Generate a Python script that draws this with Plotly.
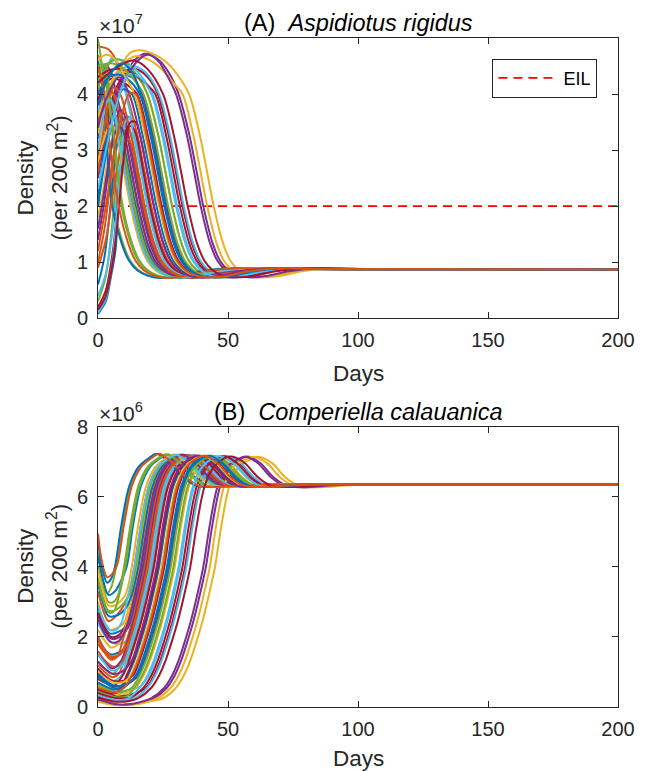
import plotly.graph_objects as go

# ---------------- data ----------------
# Panel A: Aspidiotus rigidus density, in units of 1e7 per 200 m^2 ; (day, value) points per run
A_series = [
    [(0,0.08),(3,0.3),(5,0.75),(6.7,1.2),(8,2.2),(9.5,3.2),(11,3.6),(12.5,3.55),(14,3.3),(17,2.6),(19.5,2.0),(23,1.35),(26,1.02),(29,0.86),(33,0.76),(38,0.73),(45.5,0.76),(53.5,0.84),(65.5,0.89),(79.5,0.88),(200,0.87)],
    [(0,4.85),(4,4.8),(8,4.5),(11,4.0),(15,3.3),(18,2.6),(20.5,2.0),(24,1.35),(27,1.02),(30,0.86),(34,0.76),(39,0.73),(46.5,0.76),(54.5,0.84),(66.5,0.89),(80.5,0.88),(200,0.87)],
    [(0,3.4),(4,3.9),(8,4.4),(12,4.72),(16,4.78),(21,4.72),(26,4.58),(30,4.38),(35,4.0),(39,3.3),(42,2.6),(44.5,2.0),(48,1.35),(51,1.02),(54,0.86),(58,0.76),(63,0.73),(70.5,0.76),(78.5,0.84),(90.5,0.89),(104.5,0.88),(200,0.87)],
    [(0,3.1),(5,3.7),(10,4.3),(14,4.6),(18,4.72),(23,4.62),(27,4.4),(31,4.0),(35,3.3),(38,2.6),(40.5,2.0),(44,1.35),(47,1.02),(50,0.86),(54,0.76),(59,0.73),(66.5,0.76),(74.5,0.84),(86.5,0.89),(100.5,0.88),(200,0.87)],
    [(0,4.98),(1.5,4.5),(3.5,3.3),(6,2.0),(9.5,1.35),(12.5,1.02),(15.5,0.86),(19.5,0.76),(24.5,0.72),(32,0.76),(40,0.84),(52,0.89),(66,0.88),(200,0.87)],
    [(0,3.6),(2.5,4.3),(5.5,4.65),(8.5,4.4),(11,3.95),(14,3.3),(17,2.6),(19.5,2.0),(23,1.35),(26,1.02),(29,0.86),(33,0.76),(38,0.73),(45.5,0.76),(53.5,0.84),(65.5,0.89),(79.5,0.88),(200,0.87)],
    [(0,3.0),(4,3.7),(8,4.2),(12,4.45),(16,4.42),(20,4.25),(23,4.0),(27,3.3),(30,2.6),(32.5,2.0),(36,1.35),(39,1.02),(42,0.86),(46,0.76),(51,0.73),(58.5,0.76),(66.5,0.84),(78.5,0.89),(92.5,0.88),(200,0.87)],
    [(0,0.6),(2.5,1.1),(5,2.1),(7,3.0),(9,3.45),(11,3.3),(14,2.6),(16.5,2.0),(20,1.35),(23,1.02),(26,0.86),(30,0.76),(35,0.73),(42.5,0.76),(50.5,0.84),(62.5,0.89),(76.5,0.88),(200,0.87)],
    [(0,4.0),(1.5,4.35),(3,4.3),(5,3.85),(8,3.3),(11,2.6),(13.5,2.0),(17,1.35),(20,1.02),(23,0.86),(27,0.76),(32,0.73),(39.5,0.76),(47.5,0.84),(59.5,0.89),(73.5,0.88),(200,0.87)],
    [(0,1.8),(2,2.3),(4,2.9),(6.5,3.3),(8.5,3.25),(11.5,2.6),(14,2.0),(17.5,1.35),(20.5,1.02),(23.5,0.86),(27.5,0.76),(32.5,0.73),(40,0.76),(48,0.84),(60,0.89),(74,0.88),(200,0.87)],
    [(0,3.2),(1.5,4.1),(3,4.5),(5,4.4),(7,4.0),(11,3.3),(14,2.6),(16.5,2.0),(20,1.35),(23,1.02),(26,0.86),(30,0.76),(35,0.73),(42.5,0.76),(50.5,0.84),(62.5,0.89),(76.5,0.88),(200,0.87)],
    [(0,0.3),(3,0.75),(5.5,1.7),(7.5,2.7),(9.5,3.3),(11,3.4),(12.5,3.3),(15.5,2.6),(18,2.0),(21.5,1.35),(24.5,1.02),(27.5,0.86),(31.5,0.76),(36.5,0.73),(44,0.76),(52,0.84),(64,0.89),(78,0.88),(200,0.87)],
    [(0,4.4),(4,4.55),(8,4.62),(13,4.5),(17,4.3),(21,4.0),(25,3.3),(28,2.6),(30.5,2.0),(34,1.35),(37,1.02),(40,0.86),(44,0.76),(49,0.73),(56.5,0.76),(64.5,0.84),(76.5,0.89),(90.5,0.88),(200,0.87)],
    [(0,3.8),(2,4.15),(3.5,4.22),(5.5,4.0),(9.5,3.3),(12.5,2.6),(15,2.0),(18.5,1.35),(21.5,1.02),(24.5,0.86),(28.5,0.76),(33.5,0.73),(41,0.76),(49,0.84),(61,0.89),(75,0.88),(200,0.87)],
    [(0,2.0),(2,2.9),(4.5,3.65),(6,3.6),(7.5,3.3),(10.5,2.6),(13,2.0),(16.5,1.35),(19.5,1.02),(22.5,0.86),(26.5,0.76),(31.5,0.72),(39,0.76),(47,0.84),(59,0.89),(73,0.88),(200,0.87)],
    [(0,1.0),(2.5,1.6),(5,2.5),(7,3.2),(9,3.52),(10.5,3.48),(11.5,3.3),(14.5,2.6),(17,2.0),(20.5,1.35),(23.5,1.02),(26.5,0.86),(30.5,0.76),(35.5,0.73),(43,0.76),(51,0.84),(63,0.89),(77,0.88),(200,0.87)],
    [(0,2.8),(2.5,3.6),(5,4.0),(6.5,3.95),(9.5,3.3),(12.5,2.6),(15,2.0),(18.5,1.35),(21.5,1.02),(24.5,0.86),(28.5,0.76),(33.5,0.73),(41,0.76),(49,0.84),(61,0.89),(75,0.88),(200,0.87)],
    [(0,2.5),(3,3.3),(6,3.9),(10,4.3),(13,4.3),(17,4.0),(21,3.3),(24,2.6),(26.5,2.0),(30,1.35),(33,1.02),(36,0.86),(40,0.76),(45,0.73),(52.5,0.76),(60.5,0.84),(72.5,0.89),(86.5,0.88),(200,0.87)],
    [(0,4.7),(2.5,4.4),(5,3.5),(7,2.7),(9,2.0),(12.5,1.35),(15.5,1.02),(18.5,0.86),(22.5,0.76),(27.5,0.72),(35,0.76),(43,0.84),(55,0.89),(69,0.88),(200,0.87)],
    [(0,0.4),(3,0.8),(6,1.7),(8.5,2.7),(11,3.25),(12.5,3.3),(14,3.2),(17,2.6),(19.5,2.0),(23,1.35),(26,1.02),(29,0.86),(33,0.76),(38,0.73),(45.5,0.76),(53.5,0.84),(65.5,0.89),(79.5,0.88),(200,0.87)],
    [(0,3.9),(3,4.2),(6,4.28),(10,4.2),(15,4.0),(19,3.3),(22,2.6),(24.5,2.0),(28,1.35),(31,1.02),(34,0.86),(38,0.76),(43,0.73),(50.5,0.76),(58.5,0.84),(70.5,0.89),(84.5,0.88),(200,0.87)],
    [(0,2.2),(2,2.8),(4,3.35),(6,3.6),(7.5,3.55),(9,3.3),(12,2.6),(14.5,2.0),(18,1.35),(21,1.02),(24,0.86),(28,0.76),(33,0.73),(40.5,0.76),(48.5,0.84),(60.5,0.89),(74.5,0.88),(200,0.87)],
    [(0,3.5),(2,3.9),(4,4.1),(6,4.0),(10,3.3),(13,2.6),(15.5,2.0),(19,1.35),(22,1.02),(25,0.86),(29,0.76),(34,0.73),(41.5,0.76),(49.5,0.84),(61.5,0.89),(75.5,0.88),(200,0.87)],
    [(0,3.3),(3,3.9),(6,4.25),(9,4.4),(13,4.35),(17,4.2),(19,4.0),(23,3.3),(26,2.6),(28.5,2.0),(32,1.35),(35,1.02),(38,0.86),(42,0.76),(47,0.73),(54.5,0.76),(62.5,0.84),(74.5,0.89),(88.5,0.88),(200,0.87)],
    [(0,1.4),(2.5,2.1),(5,3.0),(7,3.55),(8.5,3.72),(10,3.65),(11.5,3.3),(14.5,2.6),(17,2.0),(20.5,1.35),(23.5,1.02),(26.5,0.86),(30.5,0.76),(35.5,0.73),(43,0.76),(51,0.84),(63,0.89),(77,0.88),(200,0.87)],
    [(0,4.1),(3,4.45),(6,4.62),(10,4.58),(14,4.4),(19,4.0),(23,3.3),(26,2.6),(28.5,2.0),(32,1.35),(35,1.02),(38,0.86),(42,0.76),(47,0.73),(54.5,0.76),(62.5,0.84),(74.5,0.89),(88.5,0.88),(200,0.87)],
    [(0,3.7),(4,4.1),(8,4.4),(13,4.5),(18,4.4),(23.5,4.0),(27.5,3.3),(30.5,2.6),(33,2.0),(36.5,1.35),(39.5,1.02),(42.5,0.86),(46.5,0.76),(51.5,0.73),(59,0.76),(67,0.84),(79,0.89),(93,0.88),(200,0.87)],
    [(0,0.2),(3,0.5),(6,1.3),(8,2.3),(10,3.1),(11.5,3.42),(13,3.42),(14.5,3.3),(17.5,2.6),(20,2.0),(23.5,1.35),(26.5,1.02),(29.5,0.86),(33.5,0.76),(38.5,0.73),(46,0.76),(54,0.84),(66,0.89),(80,0.88),(200,0.87)],
    [(0,4.6),(1.5,4.2),(3,3.3),(5.5,2.0),(9,1.35),(12,1.02),(15,0.86),(19,0.76),(24,0.72),(31.5,0.76),(39.5,0.84),(51.5,0.89),(65.5,0.88),(200,0.87)],
    [(0,0.9),(3,1.4),(6,2.3),(8.5,2.95),(10.5,3.2),(12,3.18),(15,2.6),(17.5,2.0),(21,1.35),(24,1.02),(27,0.86),(31,0.76),(36,0.73),(43.5,0.76),(51.5,0.84),(63.5,0.89),(77.5,0.88),(200,0.87)],
    [(0,3.6),(4,4.1),(8,4.45),(12,4.63),(15,4.68),(20,4.6),(25,4.42),(29,4.2),(32.5,4.0),(36.5,3.3),(39.5,2.6),(42,2.0),(45.5,1.35),(48.5,1.02),(51.5,0.86),(55.5,0.76),(60.5,0.73),(68,0.76),(76,0.84),(88,0.89),(102,0.88),(200,0.87)],
    [(0,2.9),(5,3.55),(10,4.2),(15,4.58),(19,4.7),(23,4.6),(26,4.38),(30,4.0),(34,3.3),(37,2.6),(39.5,2.0),(43,1.35),(46,1.02),(49,0.86),(53,0.76),(58,0.73),(65.5,0.76),(73.5,0.84),(85.5,0.89),(99.5,0.88),(200,0.87)],
    [(0,4.2),(1.5,4.5),(3,4.5),(4.5,4.0),(8.5,3.3),(11.5,2.6),(14,2.0),(17.5,1.35),(20.5,1.02),(23.5,0.86),(27.5,0.76),(32.5,0.73),(40,0.76),(48,0.84),(60,0.89),(74,0.88),(200,0.87)],
    [(0,0.1),(3,0.35),(5.5,1.0),(7.5,2.0),(9,2.9),(10.5,3.5),(12,3.58),(13.5,3.3),(16.5,2.6),(19,2.0),(22.5,1.35),(25.5,1.02),(28.5,0.86),(32.5,0.76),(37.5,0.73),(45,0.76),(53,0.84),(65,0.89),(79,0.88),(200,0.87)],
    [(0,4.3),(4,4.42),(8,4.45),(13,4.38),(18,4.2),(22,4.0),(26,3.3),(29,2.6),(31.5,2.0),(35,1.35),(38,1.02),(41,0.86),(45,0.76),(50,0.73),(57.5,0.76),(65.5,0.84),(77.5,0.89),(91.5,0.88),(200,0.87)],
    [(0,2.0),(3,2.9),(6,3.6),(9.5,4.08),(13,4.0),(17,3.3),(20,2.6),(22.5,2.0),(26,1.35),(29,1.02),(32,0.86),(36,0.76),(41,0.73),(48.5,0.76),(56.5,0.84),(68.5,0.89),(82.5,0.88),(200,0.87)],
    [(0,2.6),(2,3.3),(4,3.85),(6,4.12),(8.5,4.0),(12.5,3.3),(15.5,2.6),(18,2.0),(21.5,1.35),(24.5,1.02),(27.5,0.86),(31.5,0.76),(36.5,0.73),(44,0.76),(52,0.84),(64,0.89),(78,0.88),(200,0.87)],
    [(0,2.8),(2,3.15),(4,3.4),(5.5,3.45),(7,3.3),(10,2.6),(12.5,2.0),(16,1.35),(19,1.02),(22,0.86),(26,0.76),(31,0.73),(38.5,0.76),(46.5,0.84),(58.5,0.89),(72.5,0.88),(200,0.87)],
    [(0,1.6),(2.5,2.3),(5,3.0),(7.5,3.4),(9,3.4),(10,3.3),(13,2.6),(15.5,2.0),(19,1.35),(22,1.02),(25,0.86),(29,0.76),(34,0.73),(41.5,0.76),(49.5,0.84),(61.5,0.89),(75.5,0.88),(200,0.87)],
    [(0,4.4),(2,4.3),(4,3.95),(7,2.9),(9.5,2.0),(13,1.35),(16,1.02),(19,0.86),(23,0.76),(28,0.72),(35.5,0.76),(43.5,0.84),(55.5,0.89),(69.5,0.88),(200,0.87)],
    [(0,3.0),(2,3.6),(4,3.9),(5.5,3.85),(7.5,3.3),(10.5,2.6),(13,2.0),(16.5,1.35),(19.5,1.02),(22.5,0.86),(26.5,0.76),(31.5,0.73),(39,0.76),(47,0.84),(59,0.89),(73,0.88),(200,0.87)],
    [(0,0.15),(3,0.4),(6,1.1),(8.5,2.2),(10.5,3.1),(12.5,3.5),(14.5,3.5),(16,3.3),(19,2.6),(21.5,2.0),(25,1.35),(28,1.02),(31,0.86),(35,0.76),(40,0.73),(47.5,0.76),(55.5,0.84),(67.5,0.89),(81.5,0.88),(200,0.87)],
    [(0,4.0),(3,4.25),(7,4.35),(11,4.28),(16,4.0),(20,3.3),(23,2.6),(25.5,2.0),(29,1.35),(32,1.02),(35,0.86),(39,0.76),(44,0.73),(51.5,0.76),(59.5,0.84),(71.5,0.89),(85.5,0.88),(200,0.87)],
    [(0,4.5),(2,4.1),(4.5,3.1),(8,2.0),(11.5,1.35),(14.5,1.02),(17.5,0.86),(21.5,0.76),(26.5,0.72),(34,0.76),(42,0.84),(54,0.89),(68,0.88),(200,0.87)],
    [(0,4.6),(3,4.7),(7,4.6),(10,4.35),(14,4.0),(18,3.3),(21,2.6),(23.5,2.0),(27,1.35),(30,1.02),(33,0.86),(37,0.76),(42,0.73),(49.5,0.76),(57.5,0.84),(69.5,0.89),(83.5,0.88),(200,0.87)],
    [(0,3.4),(3,3.9),(8,4.3),(12,4.0),(16,3.3),(19,2.6),(21.5,2.0),(25,1.35),(28,1.02),(31,0.86),(35,0.76),(40,0.73),(47.5,0.76),(55.5,0.84),(67.5,0.89),(81.5,0.88),(200,0.87)],
    [(0,4.5),(5,4.55),(10,4.45),(14,4.25),(17.5,4.0),(21.5,3.3),(24.5,2.6),(27,2.0),(30.5,1.35),(33.5,1.02),(36.5,0.86),(40.5,0.76),(45.5,0.73),(53,0.76),(61,0.84),(73,0.89),(87,0.88),(200,0.87)],
    [(0,2.3),(4,3.2),(8,3.95),(12,4.35),(16,4.3),(20.5,4.0),(24.5,3.3),(27.5,2.6),(30,2.0),(33.5,1.35),(36.5,1.02),(39.5,0.86),(43.5,0.76),(48.5,0.73),(56,0.76),(64,0.84),(76,0.89),(90,0.88),(200,0.87)],
    [(0,4.2),(5,4.4),(10,4.55),(14,4.6),(19,4.45),(25,4.0),(29,3.3),(32,2.6),(34.5,2.0),(38,1.35),(41,1.02),(44,0.86),(48,0.76),(53,0.73),(60.5,0.76),(68.5,0.84),(80.5,0.89),(94.5,0.88),(200,0.87)],
    [(0,3.8),(4,4.3),(9,4.55),(13,4.4),(16.5,4.0),(20.5,3.3),(23.5,2.6),(26,2.0),(29.5,1.35),(32.5,1.02),(35.5,0.86),(39.5,0.76),(44.5,0.73),(52,0.76),(60,0.84),(72,0.89),(86,0.88),(200,0.87)],
    [(0,1.2),(3,2.0),(6,2.9),(9,3.6),(12,4.0),(14.5,4.0),(18.5,3.3),(21.5,2.6),(24,2.0),(27.5,1.35),(30.5,1.02),(33.5,0.86),(37.5,0.76),(42.5,0.73),(50,0.76),(58,0.84),(70,0.89),(84,0.88),(200,0.87)],
]

# Panel B: Comperiella calauanica density, in units of 1e6 per 200 m^2 ; (day, value) points per run
B_series = [
    [(0,2.0),(2.5,1.65),(5,1.5),(9,1.6),(13.5,1.95),(15.5,2.4),(18,3.15),(20.5,4.0),(23,5.2),(26,6.3),(29.5,6.85),(33.5,7.1),(36.5,7.18),(41.5,6.96),(46.5,6.56),(51.5,6.32),(58.5,6.28),(70.5,6.33),(80.5,6.35),(200,6.35)],
    [(0,1.6),(3,1.3),(6,1.15),(9,1.2),(11.5,1.33),(14,1.9),(16,2.4),(18.5,3.15),(21,4.0),(23.5,5.2),(26.5,6.3),(30,6.85),(34,7.1),(37,7.18),(42,6.96),(47,6.56),(52,6.32),(59,6.28),(71,6.33),(81,6.35),(200,6.35)],
    [(0,0.3),(4,0.15),(8,0.08),(15,0.1),(20,0.17),(25,0.25),(30,0.55),(33,0.9),(35.5,1.33),(38,1.9),(40,2.4),(42.5,3.15),(45,4.0),(47.5,5.2),(50.5,6.3),(54,6.85),(58,7.05),(62,7.14),(67,6.96),(72,6.56),(77,6.32),(84,6.27),(96,6.33),(106,6.35),(200,6.35)],
    [(0,0.2),(4,0.1),(8,0.06),(15,0.09),(21.5,0.25),(26.5,0.55),(29.5,0.9),(32,1.33),(34.5,1.9),(36.5,2.4),(39,3.15),(41.5,4.0),(44,5.2),(47,6.3),(50.5,6.85),(54.5,7.06),(57.5,7.15),(62.5,6.96),(67.5,6.56),(72.5,6.32),(79.5,6.27),(91.5,6.33),(101.5,6.35),(200,6.35)],
    [(0,4.4),(1.5,3.75),(3.5,3.25),(5,3.4),(7,4.0),(9.5,5.2),(12.5,6.3),(16,6.85),(20,7.1),(23,7.22),(28,6.98),(33,6.58),(38,6.32),(45,6.28),(57,6.33),(67,6.35),(200,6.35)],
    [(0,2.4),(2.5,2.05),(5,1.85),(8.5,1.8),(12,1.95),(15,2.4),(17.5,3.15),(20,4.0),(22.5,5.2),(25.5,6.3),(29,6.85),(33,7.1),(36,7.18),(41,6.96),(46,6.56),(51,6.32),(58,6.28),(70,6.33),(80,6.35),(200,6.35)],
    [(0,0.5),(3.5,0.38),(7,0.3),(12,0.34),(18.5,0.55),(21.5,0.9),(24,1.33),(26.5,1.9),(28.5,2.4),(31,3.15),(33.5,4.0),(36,5.2),(39,6.3),(42.5,6.85),(46.5,7.1),(49.5,7.16),(54.5,6.96),(59.5,6.56),(64.5,6.32),(71.5,6.28),(83.5,6.33),(93.5,6.35),(200,6.35)],
    [(0,2.9),(2,2.4),(4.5,2.1),(8,2.15),(12,2.4),(14.5,3.15),(17,4.0),(19.5,5.2),(22.5,6.3),(26,6.85),(30,7.1),(33,7.2),(38,6.97),(43,6.57),(48,6.32),(55,6.28),(67,6.33),(77,6.35),(200,6.35)],
    [(0,3.3),(2,2.75),(4,2.45),(7,2.6),(11.5,3.15),(14,4.0),(16.5,5.2),(19.5,6.3),(23,6.85),(27,7.1),(30,7.2),(35,6.97),(40,6.57),(45,6.32),(52,6.28),(64,6.33),(74,6.35),(200,6.35)],
    [(0,3.0),(2,2.5),(4.5,2.2),(7,2.25),(10,2.4),(12.5,3.15),(15,4.0),(17.5,5.2),(20.5,6.3),(24,6.85),(28,7.1),(31,7.2),(36,6.97),(41,6.57),(46,6.32),(53,6.28),(65,6.33),(75,6.35),(200,6.35)],
    [(0,2.6),(2.5,2.2),(5,1.95),(8.5,2.0),(12.5,2.4),(15,3.15),(17.5,4.0),(20,5.2),(23,6.3),(26.5,6.85),(30.5,7.1),(33.5,7.19),(38.5,6.96),(43.5,6.56),(48.5,6.32),(55.5,6.28),(67.5,6.33),(77.5,6.35),(200,6.35)],
    [(0,1.3),(2.5,1.1),(5.5,0.95),(9.5,1.3),(12,1.9),(14,2.4),(16.5,3.15),(19,4.0),(21.5,5.2),(24.5,6.3),(28,6.85),(32,7.1),(35,7.18),(40,6.96),(45,6.56),(50,6.32),(57,6.28),(69,6.33),(79,6.35),(200,6.35)],
    [(0,0.7),(3,0.55),(6,0.45),(11,0.47),(16.5,0.6),(19.5,0.9),(22,1.33),(24.5,1.9),(26.5,2.4),(29,3.15),(31.5,4.0),(34,5.2),(37,6.3),(40.5,6.85),(44.5,7.1),(47.5,7.16),(52.5,6.96),(57.5,6.56),(62.5,6.32),(69.5,6.28),(81.5,6.33),(91.5,6.35),(200,6.35)],
    [(0,2.7),(2.5,2.25),(5,2.0),(8,2.05),(11,2.4),(13.5,3.15),(16,4.0),(18.5,5.2),(21.5,6.3),(25,6.85),(29,7.1),(32,7.2),(37,6.97),(42,6.57),(47,6.32),(54,6.28),(66,6.33),(76,6.35),(200,6.35)],
    [(0,4.3),(2,3.6),(4,3.2),(6.5,3.3),(8.5,3.55),(11,4.0),(13.5,5.2),(16.5,6.3),(20,6.85),(24,7.1),(27,7.21),(32,6.98),(37,6.58),(42,6.32),(49,6.28),(61,6.33),(71,6.35),(200,6.35)],
    [(0,2.0),(2.5,1.65),(5,1.45),(8.5,1.5),(11,1.9),(13,2.4),(15.5,3.15),(18,4.0),(20.5,5.2),(23.5,6.3),(27,6.85),(31,7.1),(34,7.19),(39,6.96),(44,6.56),(49,6.32),(56,6.28),(68,6.33),(78,6.35),(200,6.35)],
    [(0,2.2),(2.5,1.9),(5,1.7),(8,1.8),(11,2.4),(13.5,3.15),(16,4.0),(18.5,5.2),(21.5,6.3),(25,6.85),(29,7.1),(32,7.2),(37,6.97),(42,6.57),(47,6.32),(54,6.28),(66,6.33),(76,6.35),(200,6.35)],
    [(0,0.9),(3,0.72),(6,0.6),(11,0.65),(15.5,0.9),(18,1.33),(20.5,1.9),(22.5,2.4),(25,3.15),(27.5,4.0),(30,5.2),(33,6.3),(36.5,6.85),(40.5,7.1),(43.5,7.17),(48.5,6.96),(53.5,6.56),(58.5,6.32),(65.5,6.28),(77.5,6.33),(87.5,6.35),(200,6.35)],
    [(0,4.0),(2,3.4),(4,3.0),(6,3.0),(7.5,3.15),(10,4.0),(12.5,5.2),(15.5,6.3),(19,6.85),(23,7.1),(26,7.21),(31,6.98),(36,6.58),(41,6.32),(48,6.28),(60,6.33),(70,6.35),(200,6.35)],
    [(0,1.0),(3,0.85),(6,0.75),(9,0.9),(11,1.33),(13.5,1.9),(15.5,2.4),(18,3.15),(20.5,4.0),(23,5.2),(26,6.3),(29.5,6.85),(33.5,7.1),(36.5,7.18),(41.5,6.96),(46.5,6.56),(51.5,6.32),(58.5,6.28),(70.5,6.33),(80.5,6.35),(200,6.35)],
    [(0,1.1),(2.5,0.9),(5.5,0.75),(10,0.75),(13.5,0.9),(16,1.33),(18.5,1.9),(20.5,2.4),(23,3.15),(25.5,4.0),(28,5.2),(31,6.3),(34.5,6.85),(38.5,7.1),(41.5,7.17),(46.5,6.96),(51.5,6.56),(56.5,6.32),(63.5,6.28),(75.5,6.33),(85.5,6.35),(200,6.35)],
    [(0,3.5),(2,2.95),(4,2.6),(7.5,2.62),(10.5,2.8),(13,3.2),(15.5,4.0),(18,5.2),(21,6.3),(24.5,6.85),(28.5,7.1),(31.5,7.2),(36.5,6.97),(41.5,6.57),(46.5,6.32),(53.5,6.28),(65.5,6.33),(75.5,6.35),(200,6.35)],
    [(0,1.8),(2.5,1.55),(5,1.35),(7.5,1.45),(9.5,1.9),(11.5,2.4),(14,3.15),(16.5,4.0),(19,5.2),(22,6.3),(25.5,6.85),(29.5,7.1),(32.5,7.2),(37.5,6.97),(42.5,6.57),(47.5,6.32),(54.5,6.28),(66.5,6.33),(76.5,6.35),(200,6.35)],
    [(0,0.6),(3.5,0.47),(7,0.38),(11,0.4),(14.5,0.55),(17.5,0.9),(20,1.33),(22.5,1.9),(24.5,2.4),(27,3.15),(29.5,4.0),(32,5.2),(35,6.3),(38.5,6.85),(42.5,7.1),(45.5,7.16),(50.5,6.96),(55.5,6.56),(60.5,6.32),(67.5,6.28),(79.5,6.33),(89.5,6.35),(200,6.35)],
    [(0,1.5),(2.5,1.28),(5.5,1.1),(9,1.33),(11.5,1.9),(13.5,2.4),(16,3.15),(18.5,4.0),(21,5.2),(24,6.3),(27.5,6.85),(31.5,7.1),(34.5,7.19),(39.5,6.96),(44.5,6.56),(49.5,6.32),(56.5,6.28),(68.5,6.33),(78.5,6.35),(200,6.35)],
    [(0,0.45),(3.5,0.35),(7,0.28),(11,0.3),(14,0.55),(17,0.9),(19.5,1.33),(22,1.9),(24,2.4),(26.5,3.15),(29,4.0),(31.5,5.2),(34.5,6.3),(38,6.85),(42,7.1),(45,7.16),(50,6.96),(55,6.56),(60,6.32),(67,6.28),(79,6.33),(89,6.35),(200,6.35)],
    [(0,0.35),(3.5,0.26),(7,0.2),(12,0.22),(14,0.25),(19,0.55),(22,0.9),(24.5,1.33),(27,1.9),(29,2.4),(31.5,3.15),(34,4.0),(36.5,5.2),(39.5,6.3),(43,6.85),(47,7.1),(50,7.15),(55,6.96),(60,6.56),(65,6.32),(72,6.28),(84,6.33),(94,6.35),(200,6.35)],
    [(0,0.8),(3,0.68),(6,0.6),(9.5,0.9),(12,1.33),(14.5,1.9),(16.5,2.4),(19,3.15),(21.5,4.0),(24,5.2),(27,6.3),(30.5,6.85),(34.5,7.1),(37.5,7.18),(42.5,6.96),(47.5,6.56),(52.5,6.32),(59.5,6.28),(71.5,6.33),(81.5,6.35),(200,6.35)],
    [(0,4.7),(1.5,4.0),(3.5,3.55),(5,3.65),(6.5,4.0),(9,5.2),(12,6.3),(15.5,6.85),(19.5,7.1),(22.5,7.23),(27.5,6.98),(32.5,6.58),(37.5,6.32),(44.5,6.28),(56.5,6.33),(66.5,6.35),(200,6.35)],
    [(0,1.2),(2.5,1.0),(5.5,0.85),(8,0.95),(10,1.33),(12.5,1.9),(14.5,2.4),(17,3.15),(19.5,4.0),(22,5.2),(25,6.3),(28.5,6.85),(32.5,7.1),(35.5,7.18),(40.5,6.96),(45.5,6.56),(50.5,6.32),(57.5,6.28),(69.5,6.33),(79.5,6.35),(200,6.35)],
    [(0,0.15),(4,0.08),(8,0.05),(15,0.08),(23,0.25),(28,0.55),(31,0.9),(33.5,1.33),(36,1.9),(38,2.4),(40.5,3.15),(43,4.0),(45.5,5.2),(48.5,6.3),(52,6.85),(56,7.05),(60,7.14),(65,6.96),(70,6.56),(75,6.32),(82,6.27),(94,6.33),(104,6.35),(200,6.35)],
    [(0,0.25),(4,0.13),(8,0.07),(14,0.1),(20.5,0.25),(25.5,0.55),(28.5,0.9),(31,1.33),(33.5,1.9),(35.5,2.4),(38,3.15),(40.5,4.0),(43,5.2),(46,6.3),(49.5,6.85),(53.5,7.06),(56.5,7.15),(61.5,6.96),(66.5,6.56),(71.5,6.32),(78.5,6.27),(90.5,6.33),(100.5,6.35),(200,6.35)],
    [(0,3.7),(2,3.1),(4,2.75),(7.5,2.8),(12,3.2),(14.5,4.0),(17,5.2),(20,6.3),(23.5,6.85),(27.5,7.1),(30.5,7.2),(35.5,6.97),(40.5,6.57),(45.5,6.32),(52.5,6.28),(64.5,6.33),(74.5,6.35),(200,6.35)],
    [(0,1.5),(2.5,1.25),(5,1.05),(8,1.1),(10.5,1.33),(13,1.9),(15,2.4),(17.5,3.15),(20,4.0),(22.5,5.2),(25.5,6.3),(29,6.85),(33,7.1),(36,7.18),(41,6.96),(46,6.56),(51,6.32),(58,6.28),(70,6.33),(80,6.35),(200,6.35)],
    [(0,0.4),(3.5,0.31),(7,0.25),(12.5,0.27),(17.5,0.55),(20.5,0.9),(23,1.33),(25.5,1.9),(27.5,2.4),(30,3.15),(32.5,4.0),(35,5.2),(38,6.3),(41.5,6.85),(45.5,7.1),(48.5,7.16),(53.5,6.96),(58.5,6.56),(63.5,6.32),(70.5,6.28),(82.5,6.33),(92.5,6.35),(200,6.35)],
    [(0,0.7),(3,0.58),(6,0.5),(9,0.55),(11.5,0.9),(14,1.33),(16.5,1.9),(18.5,2.4),(21,3.15),(23.5,4.0),(26,5.2),(29,6.3),(32.5,6.85),(36.5,7.1),(39.5,7.17),(44.5,6.96),(49.5,6.56),(54.5,6.32),(61.5,6.28),(73.5,6.33),(83.5,6.35),(200,6.35)],
    [(0,1.9),(2.5,1.6),(5,1.4),(8.5,1.5),(12,1.9),(14,2.4),(16.5,3.15),(19,4.0),(21.5,5.2),(24.5,6.3),(28,6.85),(32,7.1),(35,7.19),(40,6.96),(45,6.56),(50,6.32),(57,6.28),(69,6.33),(79,6.35),(200,6.35)],
    [(0,3.9),(2,3.3),(4,2.9),(6.5,2.9),(10.5,3.2),(13,4.0),(15.5,5.2),(18.5,6.3),(22,6.85),(26,7.1),(29,7.21),(34,6.97),(39,6.57),(44,6.32),(51,6.28),(63,6.33),(73,6.35),(200,6.35)],
    [(0,2.5),(2.5,2.1),(5,1.85),(8,1.88),(11.5,2.4),(14,3.15),(16.5,4.0),(19,5.2),(22,6.3),(25.5,6.85),(29.5,7.1),(32.5,7.2),(37.5,6.97),(42.5,6.57),(47.5,6.32),(54.5,6.28),(66.5,6.33),(76.5,6.35),(200,6.35)],
    [(0,3.6),(2,3.05),(4,2.7),(6,2.72),(8,3.15),(10.5,4.0),(13,5.2),(16,6.3),(19.5,6.85),(23.5,7.1),(26.5,7.21),(31.5,6.98),(36.5,6.58),(41.5,6.32),(48.5,6.28),(60.5,6.33),(70.5,6.35),(200,6.35)],
    [(0,2.9),(2,2.5),(4.5,2.2),(7,2.2),(9,2.4),(11.5,3.15),(14,4.0),(16.5,5.2),(19.5,6.3),(23,6.85),(27,7.1),(30,7.2),(35,6.97),(40,6.57),(45,6.32),(52,6.28),(64,6.33),(74,6.35),(200,6.35)],
    [(0,0.5),(3,0.43),(6,0.38),(8,0.45),(11,0.9),(13.5,1.33),(16,1.9),(18,2.4),(20.5,3.15),(23,4.0),(25.5,5.2),(28.5,6.3),(32,6.85),(36,7.1),(39,7.17),(44,6.96),(49,6.56),(54,6.32),(61,6.28),(73,6.33),(83,6.35),(200,6.35)],
    [(0,0.85),(3,0.68),(6,0.55),(10,0.57),(14.5,0.9),(17,1.33),(19.5,1.9),(21.5,2.4),(24,3.15),(26.5,4.0),(29,5.2),(32,6.3),(35.5,6.85),(39.5,7.1),(42.5,7.17),(47.5,6.96),(52.5,6.56),(57.5,6.32),(64.5,6.28),(76.5,6.33),(86.5,6.35),(200,6.35)],
    [(0,4.95),(1.5,4.15),(3.5,3.71),(5.5,3.8),(7.5,4.1),(10,5.2),(13,6.3),(16.5,6.85),(20.5,7.1),(23.5,7.23),(28.5,6.98),(33.5,6.58),(38.5,6.32),(45.5,6.28),(57.5,6.33),(67.5,6.35),(200,6.35)],
    [(0,1.0),(3,0.82),(6,0.7),(10,0.72),(12.5,0.9),(15,1.33),(17.5,1.9),(19.5,2.4),(22,3.15),(24.5,4.0),(27,5.2),(30,6.3),(33.5,6.85),(37.5,7.1),(40.5,7.17),(45.5,6.96),(50.5,6.56),(55.5,6.32),(62.5,6.28),(74.5,6.33),(84.5,6.35),(200,6.35)],
    [(0,1.3),(2.5,1.1),(5.5,0.95),(9,1.0),(13,1.33),(15.5,1.9),(17.5,2.4),(20,3.15),(22.5,4.0),(25,5.2),(28,6.3),(31.5,6.85),(35.5,7.1),(38.5,7.18),(43.5,6.96),(48.5,6.56),(53.5,6.32),(60.5,6.28),(72.5,6.33),(82.5,6.35),(200,6.35)],
    [(0,0.65),(3,0.52),(6.5,0.42),(10,0.44),(13,0.55),(16,0.9),(18.5,1.33),(21,1.9),(23,2.4),(25.5,3.15),(28,4.0),(30.5,5.2),(33.5,6.3),(37,6.85),(41,7.1),(44,7.16),(49,6.96),(54,6.56),(59,6.32),(66,6.28),(78,6.33),(88,6.35),(200,6.35)],
    [(0,0.3),(3.5,0.24),(7,0.2),(11,0.22),(16,0.55),(19,0.9),(21.5,1.33),(24,1.9),(26,2.4),(28.5,3.15),(31,4.0),(33.5,5.2),(36.5,6.3),(40,6.85),(44,7.1),(47,7.16),(52,6.96),(57,6.56),(62,6.32),(69,6.28),(81,6.33),(91,6.35),(200,6.35)],
    [(0,0.28),(3.5,0.2),(7,0.15),(12,0.17),(15.5,0.25),(20.5,0.55),(23.5,0.9),(26,1.33),(28.5,1.9),(30.5,2.4),(33,3.15),(35.5,4.0),(38,5.2),(41,6.3),(44.5,6.85),(48.5,7.1),(51.5,7.15),(56.5,6.96),(61.5,6.56),(66.5,6.32),(73.5,6.28),(85.5,6.33),(95.5,6.35),(200,6.35)],
    [(0,0.95),(3,0.75),(6,0.62),(10,0.63),(15,0.9),(17.5,1.33),(20,1.9),(22,2.4),(24.5,3.15),(27,4.0),(29.5,5.2),(32.5,6.3),(36,6.85),(40,7.1),(43,7.17),(48,6.96),(53,6.56),(58,6.32),(65,6.28),(77,6.33),(87,6.35),(200,6.35)],
    [(0,0.55),(3,0.47),(6,0.42),(10,0.55),(13,0.9),(15.5,1.33),(18,1.9),(20,2.4),(22.5,3.15),(25,4.0),(27.5,5.2),(30.5,6.3),(34,6.85),(38,7.1),(41,7.17),(46,6.96),(51,6.56),(56,6.32),(63,6.28),(75,6.33),(85,6.35),(200,6.35)],
]

EIL_value = 2.0          # x 1e7
x_ticks = [0, 50, 100, 150, 200]
A_yticks = [0, 1, 2, 3, 4, 5]
B_yticks = [0, 2, 4, 6, 8]
colors = ['#0072BD', '#D95319', '#EDB120', '#7E2F8E', '#77AC30', '#4DBEEE', '#A2142F']

# ---------------- figure ----------------
# target positions below are window pixels; the page body adds an 8 px margin
WIN_W, WIN_H = 646, 771
OFF = 8
W, H = WIN_W - OFF, WIN_H - OFF
AX_L, AX_R = 97.5, 618.3
A_TOP, A_BOT = 38.3, 318.3
B_TOP, B_BOT = 426.7, 706.7
ML, MR, MT, MB = AX_L - OFF, WIN_W - AX_R, A_TOP - OFF, WIN_H - B_BOT
PW, PH = W - ML - MR, H - MT - MB
FONT = "Liberation Sans, Arial, Helvetica, sans-serif"
INK = "#262626"

def px_x(p):
    return (p - OFF - ML) / PW

def px_y(p):
    return 1 - (p - OFF - MT) / PH

def clamp(v):
    return min(1.0, max(0.0, v))

fig = go.Figure()

# EIL reference (drawn beneath the runs)
fig.add_trace(go.Scatter(
    x=[x_ticks[0], x_ticks[-1]], y=[EIL_value, EIL_value], mode="lines",
    line=dict(color="#FF0000", width=1.6, dash="9px,6px"),
    name="EIL", showlegend=True, xaxis="x", yaxis="y", hoverinfo="skip"))

for i, run in enumerate(A_series):
    fig.add_trace(go.Scatter(
        x=[p[0] for p in run], y=[p[1] for p in run], mode="lines",
        line=dict(color=colors[i % 7], width=2, shape="spline", smoothing=0.9),
        showlegend=False, xaxis="x", yaxis="y", hoverinfo="skip"))

for i, run in enumerate(B_series):
    fig.add_trace(go.Scatter(
        x=[p[0] for p in run], y=[p[1] for p in run], mode="lines",
        line=dict(color=colors[i % 7], width=2, shape="spline", smoothing=0.9),
        showlegend=False, xaxis="x2", yaxis="y2", hoverinfo="skip"))

xdom = [0.0, 1.0]
axis_common = dict(showline=True, linecolor=INK, linewidth=1, mirror="ticks",
                   ticks="inside", ticklen=6, tickcolor=INK, tickwidth=1,
                   showgrid=False, zeroline=False, automargin=False,
                   tickfont=dict(family=FONT, size=20, color=INK))

fig.update_layout(
    width=W, height=H, margin=dict(l=ML, r=MR, t=MT, b=MB, pad=0, autoexpand=False),
    paper_bgcolor="white", plot_bgcolor="white",
    font=dict(family=FONT, color=INK),
    xaxis=dict(domain=xdom, range=[0, 200], anchor="y", tickvals=x_ticks,
               ticktext=[str(v) for v in x_ticks], ticklabelstandoff=4, **axis_common),
    yaxis=dict(domain=[clamp(px_y(A_BOT)), clamp(px_y(A_TOP))], range=[0, 5], anchor="x",
               tickvals=A_yticks, ticktext=[str(v) for v in A_yticks], ticklabelstandoff=5,
               **axis_common),
    xaxis2=dict(domain=xdom, range=[0, 200], anchor="y2", tickvals=x_ticks,
                ticktext=[str(v) for v in x_ticks], ticklabelstandoff=4, **axis_common),
    yaxis2=dict(domain=[clamp(px_y(B_BOT)), clamp(px_y(B_TOP))], range=[0, 8], anchor="x2",
                tickvals=B_yticks, ticktext=[str(v) for v in B_yticks], ticklabelstandoff=5,
                **axis_common),
    legend=dict(x=px_x(597.7), xanchor="right", y=px_y(59), yanchor="top",
                bordercolor=INK, borderwidth=1, bgcolor="white",
                font=dict(family=FONT, size=18, color="black"),
                itemwidth=60, tracegroupgap=0),
    showlegend=True,
)

ann = []
cx = px_x((AX_L + AX_R) / 2)
ann.append(dict(text="(A)  <i>Aspidiotus rigidus</i>", x=cx, y=px_y(23), xref="paper", yref="paper",
                xanchor="center", yanchor="middle", showarrow=False,
                font=dict(family=FONT, size=23.5, color="black")))
ann.append(dict(text="(B)  <i>Comperiella calauanica</i>", x=cx, y=px_y(412), xref="paper", yref="paper",
                xanchor="center", yanchor="middle", showarrow=False,
                font=dict(family=FONT, size=23.5, color="black")))
ann.append(dict(text="×10<sup>7</sup>", x=px_x(96), y=px_y(39), xref="paper", yref="paper",
                xanchor="left", yanchor="bottom", showarrow=False,
                font=dict(family=FONT, size=21, color=INK)))
ann.append(dict(text="×10<sup>6</sup>", x=px_x(96), y=px_y(427), xref="paper", yref="paper",
                xanchor="left", yanchor="bottom", showarrow=False,
                font=dict(family=FONT, size=21, color=INK)))
for yc in (178, 566):
    ann.append(dict(text="Density", x=px_x(25), y=px_y(yc),
                    xref="paper", yref="paper", xanchor="center", yanchor="middle",
                    textangle=-90, showarrow=False,
                    font=dict(family=FONT, size=22.5, color=INK)))
    ann.append(dict(text="(per 200 m<sup>2</sup>)", x=px_x(57), y=px_y(yc),
                    xref="paper", yref="paper", xanchor="center", yanchor="middle",
                    textangle=-90, showarrow=False,
                    font=dict(family=FONT, size=22.5, color=INK)))
for yc in (373, 758):
    ann.append(dict(text="Days", x=cx, y=px_y(yc), xref="paper", yref="paper",
                    xanchor="center", yanchor="middle", showarrow=False,
                    font=dict(family=FONT, size=22.5, color=INK)))
fig.update_layout(annotations=ann)

fig.write_html("out.html")
